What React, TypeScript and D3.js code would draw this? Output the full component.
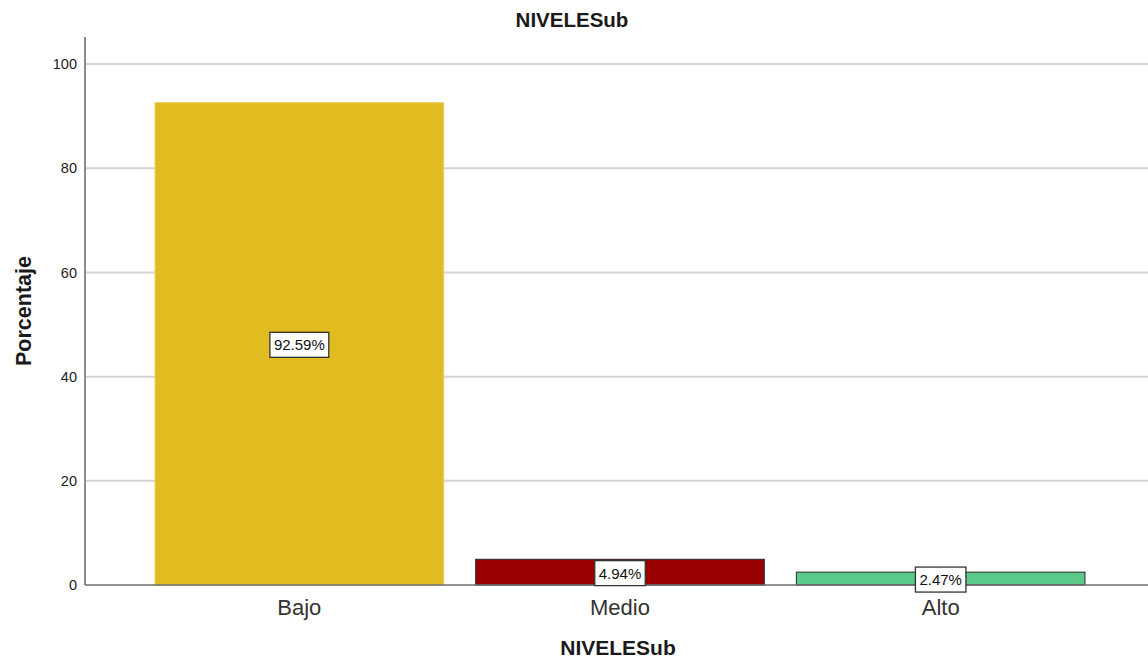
import React from "react";
import * as d3 from "d3";

const categories = ["Bajo", "Medio", "Alto"];
const percentages = [92.59, 4.94, 2.47];
const barColors = ["#e1bc20", "#990000", "#5bc98a"];
const barStrokes = ["#e8cc5a", "#2a2a2a", "#2a2a2a"];
const yTicks = [0, 20, 40, 60, 80, 100];

const W = 1148;
const H = 661;
const FONT = "'Liberation Sans', Arial, sans-serif";

// approximate Arial advance widths for the label characters
const charWidth: Record<string, number> = {
  "0": 0.556, "1": 0.556, "2": 0.556, "3": 0.556, "4": 0.556,
  "5": 0.556, "6": 0.556, "7": 0.556, "8": 0.556, "9": 0.556,
  ".": 0.278, "%": 0.889,
};
const textWidth = (s: string, size: number) =>
  s.split("").reduce((acc, ch) => acc + (charWidth[ch] ?? 0.556), 0) * size;

export default function App() {
  const left = 85;
  const right = 1148;
  const top = 37;
  const bottom = 585;

  const y = d3.scaleLinear().domain([0, 105.2]).range([bottom, top]);
  const x = d3
    .scaleBand<string>()
    .domain(categories)
    .range([139, 1101])
    .paddingInner(0.1)
    .paddingOuter(0.05);

  const labelSize = 15;

  return (
    <svg
      width={W}
      height={H}
      style={{ position: "fixed", left: 0, top: 0, background: "#fff" }}
      fontFamily={FONT}
    >
      <text x={572} y={27} textAnchor="middle" fontSize={20.5} fontWeight="bold" fill="#1a1a1a">
        NIVELESub
      </text>

      {/* gridlines */}
      {yTicks.filter((t) => t > 0).map((t) => (
        <line key={t} x1={left} x2={right} y1={y(t)} y2={y(t)} stroke="#d4d4d4" strokeWidth={2} />
      ))}

      {/* bars */}
      {categories.map((c, i) => (
        <rect
          key={c}
          x={x(c)!}
          y={y(percentages[i])}
          width={x.bandwidth()}
          height={bottom - y(percentages[i])}
          fill={barColors[i]}
          stroke={barStrokes[i]}
          strokeWidth={1}
        />
      ))}

      {/* axes */}
      <line x1={left} x2={left} y1={top} y2={bottom} stroke="#8c8c8c" strokeWidth={2} />
      <line x1={left} x2={right} y1={bottom} y2={bottom} stroke="#6e6e6e" strokeWidth={1.5} />

      {yTicks.map((t) => (
        <text key={t} x={77} y={y(t)} dy="0.36em" textAnchor="end" fontSize={14.5} fill="#222">
          {t}
        </text>
      ))}

      {/* value labels */}
      {categories.map((c, i) => {
        const cx = x(c)! + x.bandwidth() / 2;
        const cy = (y(percentages[i]) + bottom) / 2 + 1;
        const label = percentages[i].toFixed(2) + "%";
        const bw = textWidth(label, labelSize) + 8;
        const bh = 25;
        return (
          <g key={c}>
            <rect
              x={cx - bw / 2}
              y={cy - bh / 2}
              width={bw}
              height={bh}
              fill="#fff"
              stroke="#333"
              strokeWidth={1.3}
            />
            <text x={cx} y={cy} dy="0.36em" textAnchor="middle" fontSize={labelSize} fill="#111">
              {label}
            </text>
          </g>
        );
      })}

      {/* category labels */}
      {categories.map((c) => (
        <text
          key={c}
          x={x(c)! + x.bandwidth() / 2}
          y={615}
          textAnchor="middle"
          fontSize={22}
          fill="#333"
        >
          {c}
        </text>
      ))}

      <text x={618} y={655} textAnchor="middle" fontSize={21} fontWeight="bold" fill="#1a1a1a">
        NIVELESub
      </text>
      <text
        transform={`translate(31, ${(top + bottom) / 2}) rotate(-90)`}
        textAnchor="middle"
        fontSize={21.5}
        fontWeight="bold"
        fill="#1a1a1a"
      >
        Porcentaje
      </text>
    </svg>
  );
}
